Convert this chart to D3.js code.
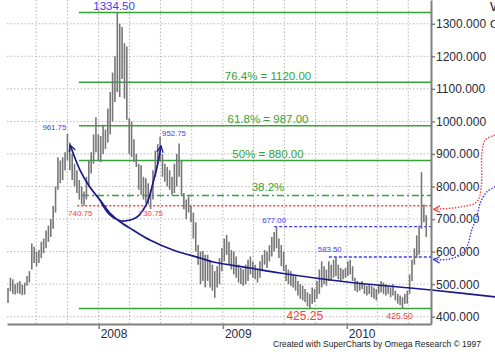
<!DOCTYPE html>
<html><head><meta charset="utf-8">
<script src="https://cdn.jsdelivr.net/npm/d3@7"></script>
<style>
body{margin:0;background:#fff;overflow:hidden}
svg{display:block}
text{font-family:Arial,"Liberation Sans",sans-serif}
</style>
</head><body>
<svg id="c" width="495" height="357"></svg>
<script>
// ---------- DATA ----------
const firstWeek = "2007-04-09";   // weekly bars, one per week from this date
const highs = [
 488,520,515,500,505,510,498,505,525,540,
 625,615,600,605,630,640,665,680,700,740,
 800,890,880,890,905,961.75,935,900,870,850,
 820,800,785,830,880,905,960,1013,960,955,
 990,975,1040,1090,1150,1200,1334.5,1300,1290,1240,
 1230,1010,1000,945,900,870,865,830,825,810,
 790,850,910,930,952.75,900,870,860,850,830,
 870,900,932,880,780,760,770,740,720,690,
 620,600,602,590,590,575,560,540,555,580,
 610,640,651,630,605,600,585,560,550,545,
 560,575,585,570,560,545,570,590,605,600,
 620,645,660,677,640,620,600,560,545,540,
 530,525,510,500,495,485,475,470,490,485,
 510,545,570,555,545,570,560,575,583.5,560,
 550,545,550,570,575,555,520,510,505,510,
 500,495,500,495,490,485,500,510,505,500,
 495,490,500,480,470,465,460,470,480,530,
 575,610,650,680,844,745,712
];
const lows = [
 442,478,470,468,472,470,466,468,495,505,
 545,565,555,565,580,595,610,630,645,670,
 720,790,810,820,850,880,850,820,800,780,
 760,745,740.75,760,800,840,870,905,880,875,
 900,915,935,960,1000,1060,1090,1075,1130,1070,
 1005,900,890,875,860,790,775,760,750,745,
 730.75,760,830,870,880,830,815,800,790,775,
 780,800,830,770,730,700,720,690,640,600,
 560,500,510,490,510,490,480,458,490,500,
 540,570,590,560,545,530,520,505,500,495,
 500,510,530,520,515,505,520,540,560,550,
 570,585,600,610,580,555,540,510,500,495,
 490,480,465,455,450,445,432,425.25,440,445,
 455,470,490,500,495,510,510,520,525,515,
 510,515,520,525,530,510,480,475,480,485,
 470,465,470,460,455,450,470,475,470,465,
 470,460,465,450,440,435,425.5,440,440,470,
 510,560,580,590,670,690,645
];
const yTicks = [400,500,600,700,800,900,1000,1100,1200,1300];
const yearTicks = ["2008-01-01","2009-01-01","2010-01-01"];
const yearLabels = ["2008","2009","2010"];

// Fibonacci retracement levels (0% = 425.25 low, 100% = 1334.50 high)
const fibValues = [425.25, 772.6, 880, 987, 1120, 1334.5];
const fibLabels = ["", "38.2%", "50% = 880.00", "61.8% = 987.00", "76.4% = 1120.00", ""];
const fibStart = "2007-11-04";

// support / resistance levels
const redLevel = {value: 740.75, start: "2007-10-30"};
const blueLevels = [{value: 677.00, start: "2009-06-01"}, {value: 583.50, start: "2009-11-09"}];

// price labels: text, bar date, price
const blueLabels = [["961.75","2007-10-01",961.75],["952.75","2008-06-30",952.75],["677.00","2009-06-01",677],["583.50","2009-11-09",583.5]];
const redLabels = [["740.75","2007-11-19",740.75],["730.75","2008-06-02",730.75],["425.25","2009-09-07",425.25],["425.50","2010-06-14",425.5]];
const highLabel = ["1334.50","2008-02-25",1334.5];

// hand-drawn curves (date, price)
const longCurve = [["2011-03-14",460.6],["2010-09-07",482],["2010-07-07",488.2],["2010-01-02",506.6],["2009-06-18",534.3],
 ["2009-03-22",549.6],["2008-12-04",568],["2008-10-26",580.3],["2008-08-07",604.9],["2008-05-31",635.6],["2008-04-11",666.4],
 ["2008-03-04",691.9],["2008-02-03",718.6],["2008-01-05",758.5],["2007-12-06",798.5],["2007-11-07",850.7],["2007-10-09",927.5]];
const cupCurve = [["2008-01-05",758.5],["2008-02-03",712.5],["2008-03-04",694.9],["2008-04-03",697],["2008-04-23",706.3],
 ["2008-05-11",727.8],["2008-05-26",758.5],["2008-06-09",810.8],["2008-06-21",859.9],["2008-07-03",924.4]];
const redArrow = [["2011-03-14",958.2],["2011-02-13",942.9],["2011-02-03",902.9],["2011-02-01",798.5],["2011-01-19",753.3],
 ["2010-12-01",737],["2010-09-14",730]];
const blueArrow = [["2011-03-14",799.4],["2011-02-18",784],["2011-01-29",749.3],["2011-01-19",707.2],["2011-01-04",666.4],
 ["2010-12-21",615],["2010-12-01",589.6],["2010-10-23",576],["2010-09-13",576]];

// ---------- CHART ----------
const parse = d3.timeParse("%Y-%m-%d");
const svg = d3.select("#c");
svg.append("rect").attr("width",495).attr("height",357).attr("fill","#fff");

const x = d3.scaleTime().domain([parse("2007-04-06"), parse("2010-09-06")]).range([7, 431]);
const y = d3.scaleLinear().domain([377.6, 1373]).range([324, 0]);

const NAVY = "#1a1a8c", GREEN = "#36a336", RED = "#ff3b3b", BLUE = "#3b3bf0", GRAY = "#808080";

const defs = svg.append("defs");
function marker(id, color, w) {
  defs.append("marker").attr("id", id).attr("viewBox","0 0 10 10").attr("refX",9).attr("refY",5)
    .attr("markerUnits","userSpaceOnUse").attr("markerWidth",w).attr("markerHeight",w).attr("orient","auto")
    .append("path").attr("d","M1,1 L9,5 L1,9").attr("fill","none").attr("stroke",color).attr("stroke-width",1.6);
}
marker("mNavy", NAVY, 8); marker("mRed", RED, 8); marker("mBlue", BLUE, 8);

// grid
const grid = svg.append("g");
grid.selectAll("line.h").data(yTicks).join("line")
  .attr("x1", 7).attr("x2", 431).attr("y1", d => y(d)).attr("y2", d => y(d))
  .attr("stroke","#b8b8b8").attr("stroke-dasharray","1.5,2");
const quarters = d3.timeMonth.every(3).range(parse("2007-07-01"), parse("2010-08-01"));
grid.selectAll("line.v").data(quarters).join("line")
  .attr("x1", d => x(d)).attr("x2", d => x(d)).attr("y1", 0).attr("y2", 324)
  .attr("stroke","#b8b8b8").attr("stroke-dasharray","1.5,2");

// fib levels
const fibG = svg.append("g");
fibValues.forEach((v, i) => {
  const ln = fibG.append("line").attr("x1", x(parse(fibStart)) + (i === 1 ? 3 : 0)).attr("x2", 431)
    .attr("y1", y(v)).attr("y2", y(v)).attr("stroke", GREEN).attr("stroke-width", 1.5);
  if (i === 1) ln.attr("stroke-dasharray","7,3,2,3");
  if (fibLabels[i]) fibG.append("text").attr("x", 268).attr("y", y(v) - (i === 1 ? 4 : 2.5))
    .attr("text-anchor","middle").attr("font-size", 11.5).attr("fill", GREEN).text(fibLabels[i]);
});

// red level
svg.append("line").attr("x1", x(parse(redLevel.start))).attr("x2", 431)
  .attr("y1", y(redLevel.value)).attr("y2", y(redLevel.value))
  .attr("stroke", RED).attr("stroke-width", 1.5).attr("stroke-dasharray","2,2");
// blue levels
blueLevels.forEach(l => svg.append("line").attr("x1", x(parse(l.start))).attr("x2", 431)
  .attr("y1", y(l.value)).attr("y2", y(l.value))
  .attr("stroke", BLUE).attr("stroke-width", 1.3).attr("stroke-dasharray","3,2"));

// bars
const bars = highs.map((h, i) => ({d: d3.timeDay.offset(parse(firstWeek), 7 * i), h, l: lows[i]}));
svg.append("g").selectAll("line").data(bars).join("line")
  .attr("x1", d => x(d.d)).attr("x2", d => x(d.d))
  .attr("y1", d => y(d.h)).attr("y2", d => y(d.l))
  .attr("stroke", "#777").attr("stroke-width", 1.6);

// curves
const lineGen = d3.line().x(p => x(parse(p[0]))).y(p => y(p[1])).curve(d3.curveCatmullRom.alpha(0.5));
svg.append("path").attr("d", lineGen(longCurve)).attr("fill","none").attr("stroke", NAVY).attr("stroke-width",1.7).attr("marker-end","url(#mNavy)");
svg.append("path").attr("d", lineGen(cupCurve)).attr("fill","none").attr("stroke", NAVY).attr("stroke-width",1.7).attr("marker-end","url(#mNavy)");
svg.append("path").attr("d", lineGen(redArrow)).attr("fill","none").attr("stroke", RED).attr("stroke-width",1.4).attr("stroke-dasharray","1.5,1.5").attr("marker-end","url(#mRed)");
svg.append("path").attr("d", lineGen(blueArrow)).attr("fill","none").attr("stroke", BLUE).attr("stroke-width",1.4).attr("stroke-dasharray","1.5,1.5").attr("marker-end","url(#mBlue)");

// labels
svg.append("text").attr("x", x(parse(highLabel[1])) - 24).attr("y", y(highLabel[2]) - 2.5)
  .attr("font-size", 11.5).attr("fill", BLUE).text(highLabel[0]);
const blueOff = [[-25,-4],[2,-1],[-12,-4],[-11,-4.5]];
blueLabels.forEach((b, i) => svg.append("text").attr("x", x(parse(b[1])) + blueOff[i][0]).attr("y", y(b[2]) + blueOff[i][1])
  .attr("font-size", 7.8).attr("fill", BLUE).text(b[0]));
const redOff = [[-16,10,8],[-12,7,8],[-21,11.5,12],[-16,10.5,8.6]];
redLabels.forEach((r, i) => svg.append("text").attr("x", x(parse(r[1])) + redOff[i][0]).attr("y", y(r[2]) + redOff[i][1])
  .attr("font-size", redOff[i][2]).attr("fill", RED).text(r[0]));

// axes
const yAxis = svg.append("g").attr("transform","translate(431,0)")
  .call(d3.axisRight(y).tickValues(yTicks).tickFormat(d3.format(".3f")).tickSize(4).tickPadding(1).tickSizeOuter(0));
yAxis.select(".domain").attr("stroke", GRAY).attr("stroke-width", 2);
yAxis.selectAll(".tick line").attr("stroke", GRAY).attr("stroke-width", 1.5);
yAxis.selectAll("text").attr("font-size", 12).attr("fill", "#2a2a3a").attr("font-family","Arial,'Liberation Sans',sans-serif");

const xAxis = svg.append("g").attr("transform","translate(0,324)")
  .call(d3.axisBottom(x).tickValues(yearTicks.map(parse)).tickFormat((d, i) => yearLabels[i]).tickSize(5).tickSizeOuter(0));
xAxis.select(".domain").attr("stroke", GRAY).attr("stroke-width", 2);
xAxis.selectAll(".tick line").attr("stroke", GRAY).attr("stroke-width", 1.5);
xAxis.selectAll("text").attr("font-size", 12).attr("fill", "#2a2a3a").attr("text-anchor","start")
  .attr("x", 1.5).attr("y", 5).attr("font-family","Arial,'Liberation Sans',sans-serif");

// corner title (clipped by the window) and credit
svg.append("text").attr("x", 490).attr("y", 11).attr("font-size", 13.5).attr("fill","#223").text("Wheat");
svg.append("text").attr("x", 490).attr("y", 28).attr("font-size", 11.5).attr("fill","#223").text("CBOT");
svg.append("text").attr("x", 273).attr("y", 347).attr("font-size", 8.5).attr("fill","#222")
  .text("Created with SuperCharts by Omega Research \u00A9 1997");
</script>
</body></html>
